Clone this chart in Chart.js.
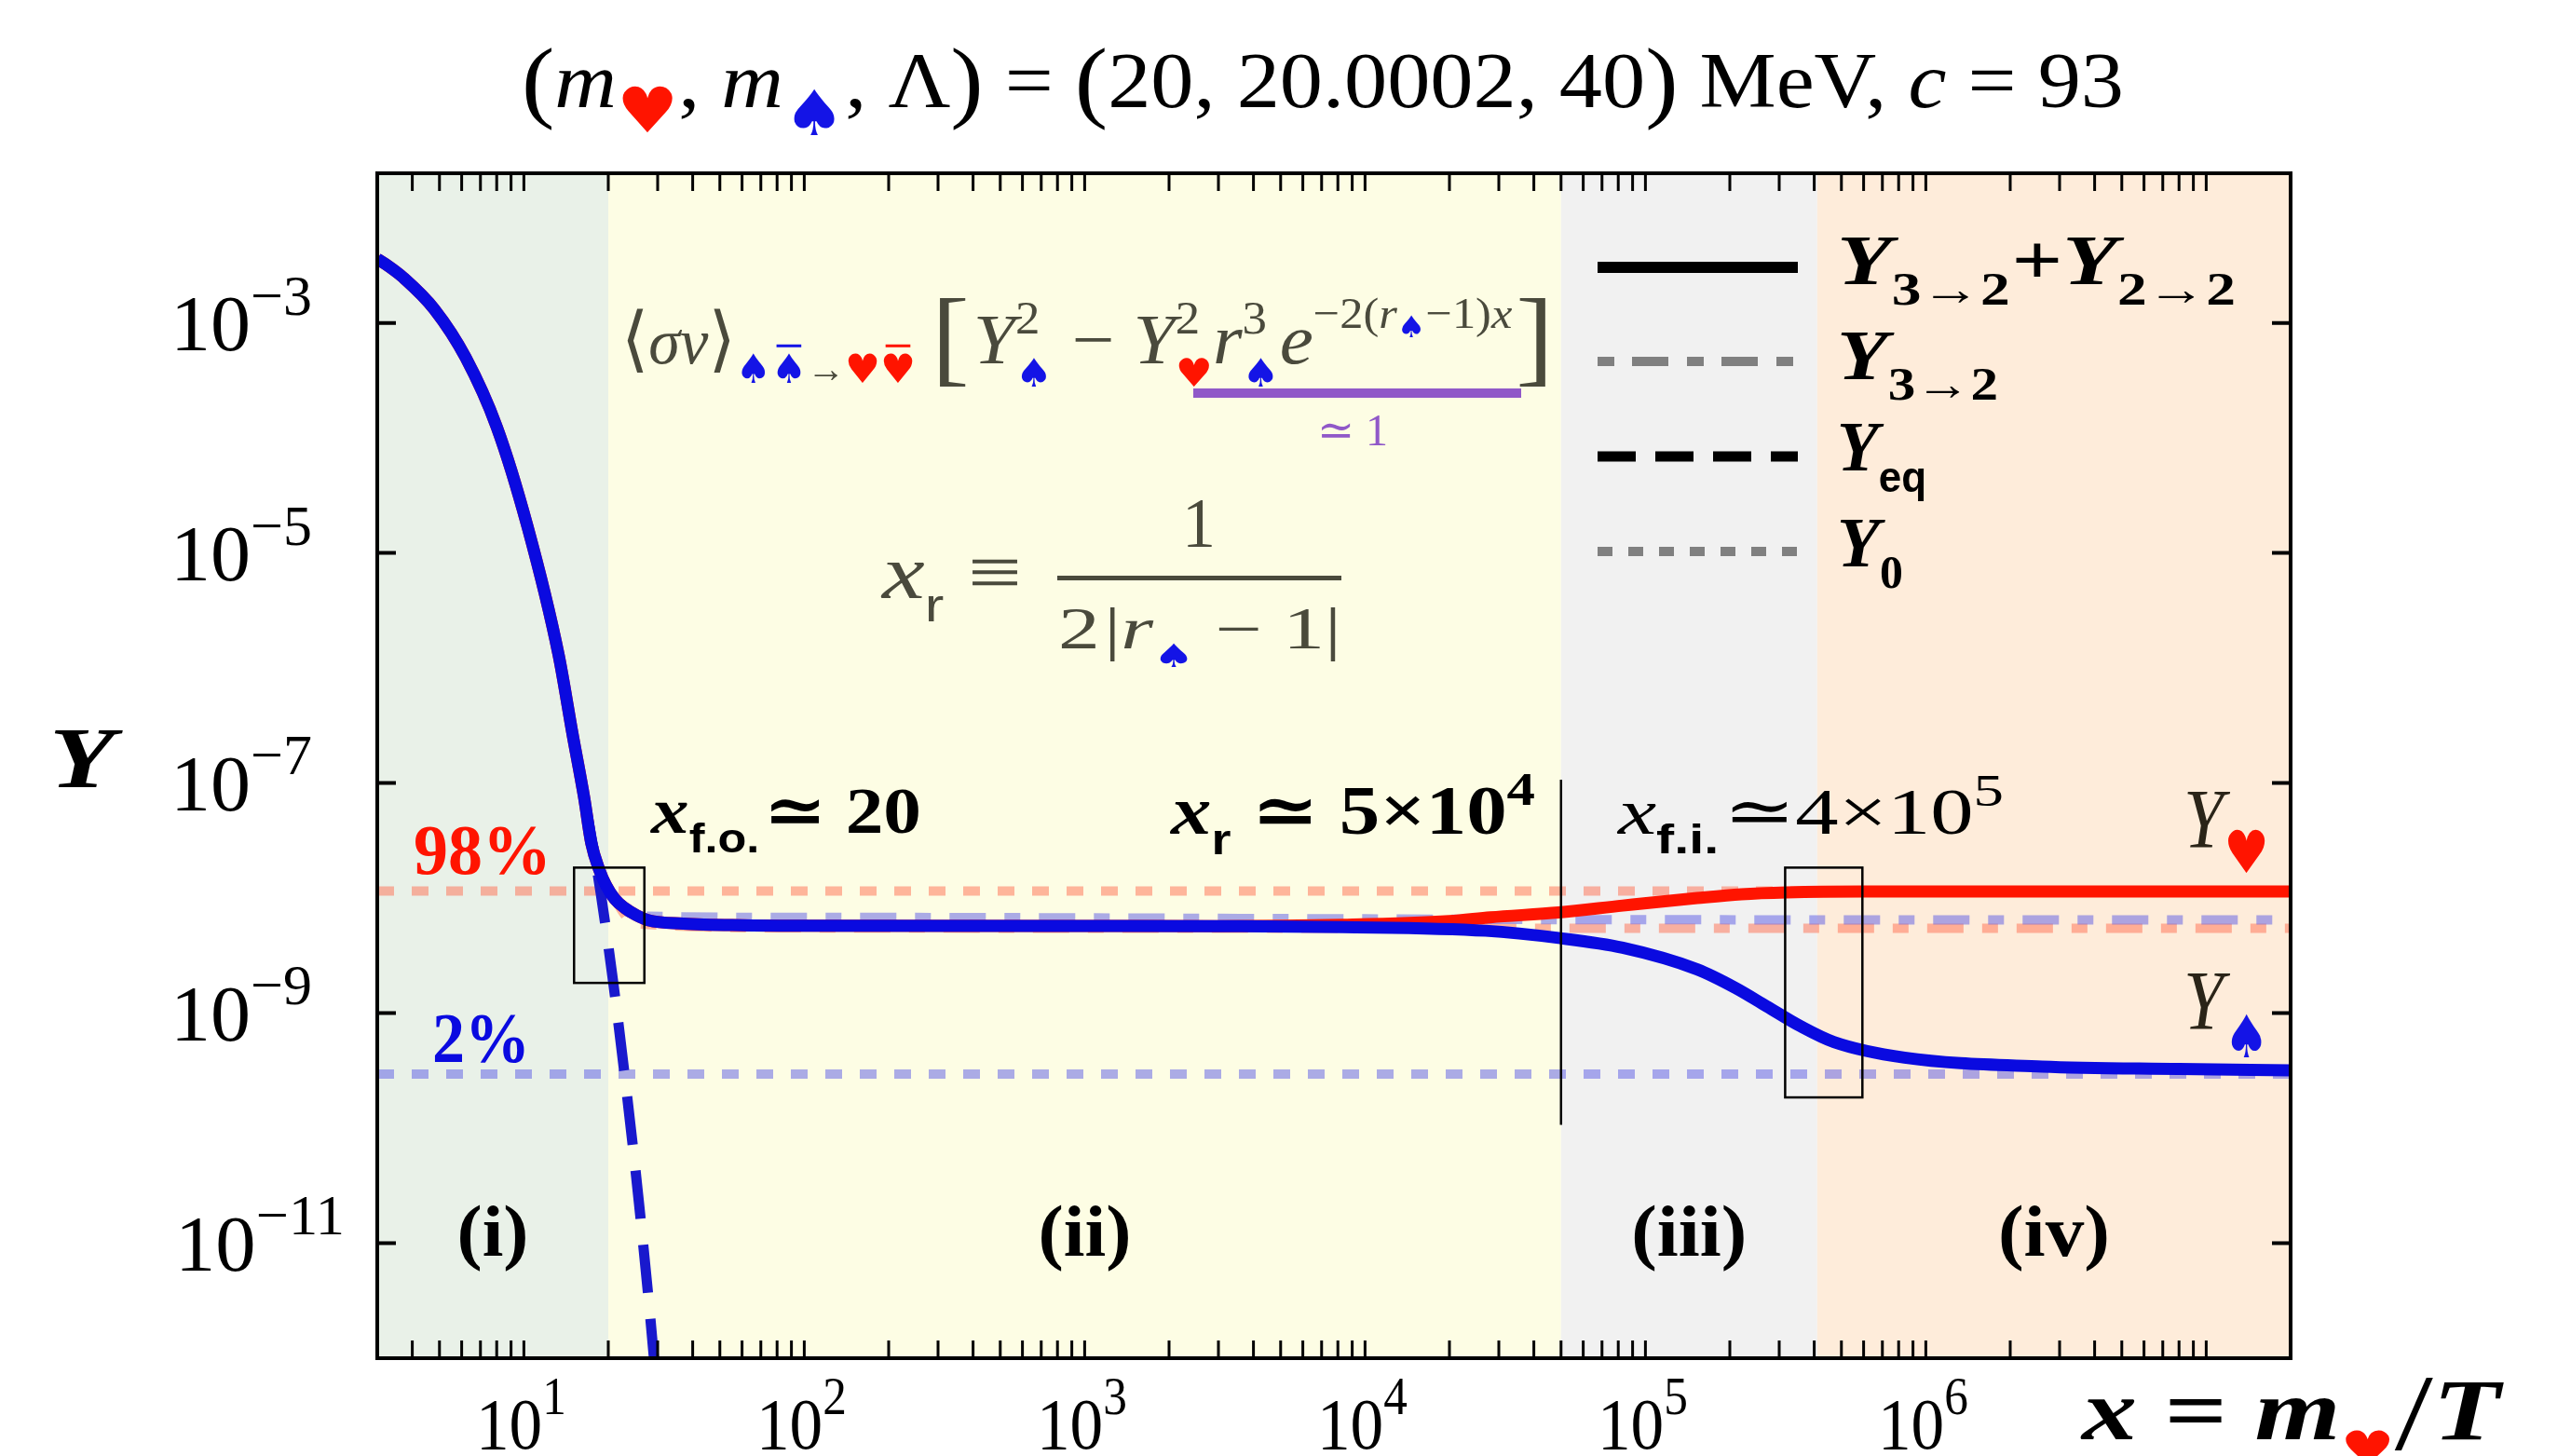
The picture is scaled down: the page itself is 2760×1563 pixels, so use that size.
<!DOCTYPE html>
<html><head><meta charset="utf-8">
<script src="https://cdn.jsdelivr.net/npm/chart.js@4.4.1/dist/chart.umd.min.js"></script>
<style>html,body{margin:0;padding:0;background:#fff}canvas{display:block}</style>
</head><body>
<canvas id="c" width="2760" height="1563"></canvas>
<script>
// ================= DATA =================
const xRange = [3, 2e7];
const yRange = [1e-12, 0.02];
const yTickExponents = [-3, -5, -7, -9, -11];
const xTickExponents = [1, 2, 3, 4, 5, 6];
const regionEdges = [3, 20, 5e4, 4.1e5, 2e7];
const regionLabels = ['(i)', '(ii)', '(iii)', '(iv)'];

// Y_spade (solid blue), Y_3->2 + Y_2->2
const xSpade = [3, 3.3, 3.7, 4.8, 6.2, 8.0, 10.3, 13.3, 14.9, 16.4, 17.4, 18.6, 19.6, 21.1, 22.9, 25.2, 27.9, 37, 60, 100, 1000, 3000, 8340, 2.69e4, 4.9e4, 8.3e4, 1.53e5, 2.1e5, 2.7e5, 3.57e5, 4.7e5, 8.4e5, 2.6e6, 8e6, 2e7];
const ySpade = [3.6e-3, 3.1e-3, 2.5e-3, 1.31e-3, 5.0e-4, 1.25e-4, 1.7e-5, 1.3e-6, 2.7e-7, 7.5e-8, 3.0e-8, 1.75e-8, 1.3e-8, 9.8e-9, 8.2e-9, 7.1e-9, 6.4e-9, 6.0e-9, 5.8e-9, 5.75e-9, 5.72e-9, 5.7e-9, 5.6e-9, 5.2e-9, 4.5e-9, 3.7e-9, 2.4e-9, 1.65e-9, 1.15e-9, 7.7e-10, 5.6e-10, 4.1e-10, 3.43e-10, 3.27e-10, 3.18e-10];
// Y_heart (solid red)
const xHeart = [3, 3.3, 3.7, 4.8, 6.2, 8.0, 10.3, 13.3, 14.9, 16.4, 17.4, 18.6, 19.6, 21.1, 22.9, 25.2, 27.9, 37, 60, 100, 1000, 3000, 8340, 2.0e4, 2.8e4, 4.9e4, 8.3e4, 1.53e5, 2.2e5, 3.19e5, 6e5, 2e6, 2e7];
const yHeart = [3.6e-3, 3.1e-3, 2.5e-3, 1.31e-3, 5.0e-4, 1.25e-4, 1.7e-5, 1.3e-6, 2.7e-7, 7.5e-8, 3.0e-8, 1.75e-8, 1.3e-8, 9.8e-9, 8.2e-9, 7.1e-9, 6.4e-9, 6.0e-9, 5.8e-9, 5.75e-9, 5.72e-9, 5.7e-9, 5.85e-9, 6.3e-9, 6.8e-9, 7.5e-9, 8.6e-9, 1.0e-8, 1.08e-8, 1.12e-8, 1.14e-8, 1.14e-8, 1.14e-8];
// Y_eq (dashed)
const xEq = [13.3, 14.9, 16.4, 17.8, 18.8, 20.7, 22.9, 25.7, 29.0, 31];
const yEq = [1.3e-6, 2.7e-7, 7.5e-8, 2.5e-8, 1.1e-8, 2.07e-9, 2.83e-10, 2.3e-11, 1.1e-12, 1.5e-13];
// Y_3->2 only (dash-dot)
const x32Spade = [19.6, 25, 100, 1e4, 5e4, 2e7];
const y32Spade = [1.3e-8, 7.0e-9, 6.8e-9, 6.6e-9, 6.5e-9, 6.45e-9];
const x32Heart = [19.6, 25, 100, 1e4, 2e7];
const y32Heart = [1.3e-8, 6.0e-9, 5.5e-9, 5.45e-9, 5.45e-9];
// Y_0 levels (dotted): 98 % and 2 %
const y0Heart = 1.15e-8;
const y0Spade = 2.95e-10;
// marker boxes and x_r line
const boxXs = [[15.1, 26.9], [3.15e5, 5.94e5]];
const boxYs = [[1.83e-9, 1.84e-8], [1.85e-10, 1.84e-8]];
const xrLineX = 5e4;
const xrLineY = [1.07e-10, 1.07e-7];

// ================= STYLE =================
const BLUE = '#0a0ae0', RED = '#ff1400', EQBLUE = 'rgb(25,25,205)', PURPLE = '#9058c8', FORM = '#4a4a3c', SUITBLUE = '#1414e6';
const regionColors = ['rgb(233,241,232)', 'rgb(253,253,228)', 'rgb(241,241,241)', 'rgb(254,236,218)'];
const SERIF = "'Liberation Serif','DejaVu Serif',serif";
const SANS = "'Liberation Sans','DejaVu Sans',sans-serif";
const SYM = "'DejaVu Sans',sans-serif";

function pts(xs, ys) { return xs.map((x, i) => ({ x, y: ys[i] })); }

function rich(ctx, parts, o) {
  const F = o.F || 80;
  let cur = 0, stack = null;
  const items = [];
  for (const p of parts) {
    const size = F * (p.s || 1);
    const font = (p.st || o.st || '') + ' ' + size + 'px ' + (p.f || o.f || SERIF);
    ctx.font = font;
    const w = ctx.measureText(p.t).width;
    let x = stack !== null ? stack.x : cur + (p.pre || 0) * F;
    items.push({ p, font, x, w, size });
    if (p.na) stack = { x, w };
    else if (stack !== null) { cur = x + Math.max(w, stack.w) + (p.post || 0) * F; stack = null; }
    else cur = x + w + (p.post || 0) * F;
  }
  const total = cur;
  const sx = o.w ? o.w / total : (o.sx || 1);
  let sy = o.sy || sx;
  if (o.h) {
    const hi = o.hi || 0;
    ctx.font = items[hi].font;
    const m = ctx.measureText(o.hRef || parts[hi].t);
    sy = o.h / m.actualBoundingBoxAscent;
  }
  let x0 = o.x;
  if (o.align === 'center') x0 -= total * sx / 2;
  else if (o.align === 'right') x0 -= total * sx;
  ctx.save();
  ctx.translate(x0, o.y);
  ctx.scale(sx, sy);
  ctx.textBaseline = 'alphabetic';
  ctx.textAlign = 'left';
  for (const it of items) {
    ctx.font = it.font;
    ctx.fillStyle = it.p.c || o.c || '#000';
    const y = (it.p.dy || 0) * F;
    ctx.fillText(it.p.t, it.x, y);
    if (it.p.bar) ctx.fillRect(it.x + it.w * 0.15, y - it.size * 0.95, it.w * 0.7, it.size * 0.07);
  }
  ctx.restore();
  return { x0, sx, sy, total };
}

const deco = {
  id: 'deco',
  beforeDatasetsDraw(chart) {
    const { ctx, chartArea: a, scales: { x } } = chart;
    ctx.save();
    for (let i = 0; i < regionColors.length; i++) {
      const x0 = x.getPixelForValue(regionEdges[i]), x1 = x.getPixelForValue(regionEdges[i + 1]);
      ctx.fillStyle = regionColors[i];
      ctx.fillRect(x0, a.top, x1 - x0, a.bottom - a.top);
    }
    ctx.restore();
  },
  afterDatasetsDraw(chart) {
    const { ctx, chartArea: a, scales: { x, y } } = chart;
    ctx.save();
    // boxes
    ctx.strokeStyle = '#000'; ctx.lineWidth = 2.5;
    boxXs.forEach((bx, i) => {
      const px0 = x.getPixelForValue(bx[0]), px1 = x.getPixelForValue(bx[1]);
      const py0 = y.getPixelForValue(boxYs[i][1]), py1 = y.getPixelForValue(boxYs[i][0]);
      ctx.strokeRect(px0, py0, px1 - px0, py1 - py0);
    });
    // x_r line
    ctx.beginPath();
    const lx = x.getPixelForValue(xrLineX);
    ctx.moveTo(lx, y.getPixelForValue(xrLineY[0]));
    ctx.lineTo(lx, y.getPixelForValue(xrLineY[1]));
    ctx.stroke();
    // frame
    ctx.lineWidth = 4;
    ctx.strokeRect(a.left, a.top, a.right - a.left, a.bottom - a.top);
    // x ticks (inward, top & bottom)
    ctx.lineWidth = 3;
    const TL = 19;
    for (let d = 0; d <= 7; d++) {
      for (let m = 1; m <= 9; m++) {
        const v = m * Math.pow(10, d);
        if (v <= xRange[0] || v >= xRange[1]) continue;
        const px = x.getPixelForValue(v);
        ctx.beginPath();
        ctx.moveTo(px, a.bottom); ctx.lineTo(px, a.bottom - TL);
        ctx.moveTo(px, a.top); ctx.lineTo(px, a.top + TL);
        ctx.stroke();
      }
    }
    // y ticks
    ctx.lineWidth = 4;
    yTickExponents.forEach(e => {
      const py = y.getPixelForValue(Math.pow(10, e));
      ctx.beginPath();
      ctx.moveTo(a.left, py); ctx.lineTo(a.left + 20, py);
      ctx.moveTo(a.right, py); ctx.lineTo(a.right - 20, py);
      ctx.stroke();
    });
    // y tick labels
    yTickExponents.forEach(e => {
      const py = y.getPixelForValue(Math.pow(10, e));
      const ex = String(Math.abs(e));
      rich(ctx, [{ t: '10' }, { t: '\u2212' + ex, s: 0.72, dy: -0.45 }],
        { x: ex.length > 1 ? 188 : 183, y: py + 29, F: 73, w: ex.length > 1 ? 182 : 152, h: 58, hRef: '10' });
    });
    // x tick labels
    xTickExponents.forEach(e => {
      const px = x.getPixelForValue(Math.pow(10, e));
      rich(ctx, [{ t: '10' }, { t: String(e), s: 0.72, dy: -0.47 }],
        { x: px - 3, y: 1555, F: 70, w: 97, h: 53, hRef: '10', align: 'center' });
    });
    // axis titles
    rich(ctx, [{ t: 'Y', st: 'bold italic' }], { x: 88, y: 845, F: 80, w: 70, h: 62, align: 'center' });
    rich(ctx, [{ t: 'x', st: 'bold italic' }, { t: ' = ', st: 'bold' }, { t: 'm', st: 'bold italic' },
      { t: '\u2665', f: SYM, s: 0.55, dy: 0.3, c: RED }, { t: '/', s: 1.25, dy: 0.12 }, { t: 'T', st: 'bold italic' }],
      { x: 2235, y: 1545, F: 80, w: 449, h: 62, hi: 5, hRef: 'T' });
    // title
    rich(ctx, [{ t: '(', s: 1.15, dy: 0.05 }, { t: 'm', st: 'italic' }, { t: '\u2665', f: SYM, s: 0.8, dy: 0.32, c: RED },
      { t: ', ' }, { t: 'm', st: 'italic' }, { t: '\u2660', f: SYM, s: 0.8, dy: 0.36, c: SUITBLUE },
      { t: ', \u039B' }, { t: ')', s: 1.15, dy: 0.05 }, { t: ' = ' }, { t: '(', s: 1.15, dy: 0.05 },
      { t: '20, 20.0002, 40' }, { t: ')', s: 1.15, dy: 0.05 }, { t: ' MeV, ' }, { t: 'c', st: 'italic' }, { t: ' = 93' }],
      { x: 560, y: 115, F: 80, w: 1720, h: 57, hi: 10, hRef: '2' });
    // region labels
    const rw = [77, 100, 124, 120];
    regionLabels.forEach((lab, i) => {
      const cx = x.getPixelForValue(Math.sqrt(regionEdges[i] * regionEdges[i + 1]));
      rich(ctx, [{ t: lab, st: 'bold' }], { x: cx, y: 1348, F: 72, w: rw[i], h: 55, hRef: '(', align: 'center' });
    });
    // annotations
    rich(ctx, [{ t: 'x', st: 'bold italic' }, { t: 'f.o.', f: SANS, st: 'bold', s: 0.62, dy: 0.3 },
      { t: '\u2243', st: 'bold', pre: 0.05 }, { t: ' 20', st: 'bold' }],
      { x: 699, y: 894, F: 72, w: 290, h: 47, hi: 3, hRef: '20' });
    rich(ctx, [{ t: 'x', st: 'bold italic' }, { t: 'r', f: SANS, st: 'bold', s: 0.62, dy: 0.3 },
      { t: ' \u2243 ', st: 'bold' }, { t: '5\u00D710', st: 'bold' }, { t: '4', st: 'bold', s: 0.7, dy: -0.42 }],
      { x: 1257, y: 895, F: 72, w: 391, h: 48, hi: 3, hRef: '5' });
    rich(ctx, [{ t: 'x', st: 'italic' }, { t: 'f.i.', f: SANS, st: 'bold', s: 0.62, dy: 0.3 },
      { t: '\u2243', pre: 0.05 }, { t: '4\u00D710' }, { t: '5', s: 0.7, dy: -0.42 }],
      { x: 1737, y: 895, F: 72, w: 414, h: 46, hi: 3, hRef: '4' });
    rich(ctx, [{ t: '98%', st: 'bold', c: RED }], { x: 444, y: 938, F: 72, w: 148, h: 51, hRef: '98' });
    rich(ctx, [{ t: '2%', st: 'bold', c: BLUE }], { x: 464, y: 1140, F: 72, w: 105, h: 51, hRef: '2' });
    rich(ctx, [{ t: 'Y', st: 'italic', c: '#2a2418' }, { t: '\u2665', f: SYM, s: 0.7, dy: 0.3, c: RED }],
      { x: 2344, y: 910, F: 80, w: 92, h: 60, hRef: 'Y' });
    rich(ctx, [{ t: 'Y', st: 'italic', c: '#2a2418' }, { t: '\u2660', f: SYM, s: 0.7, dy: 0.33, c: SUITBLUE }],
      { x: 2344, y: 1105, F: 80, w: 92, h: 60, hRef: 'Y' });
    // formula line 1
    rich(ctx, [{ t: '\u27E8', f: SYM, s: 1.1 }, { t: '\u03C3v', st: 'italic' }, { t: '\u27E9', f: SYM, s: 1.1 },
      { t: '\u2660', f: SYM, s: 0.62, dy: 0.3, c: SUITBLUE }, { t: '\u2660', f: SYM, s: 0.62, dy: 0.3, c: SUITBLUE, bar: 1 },
      { t: '\u2192', s: 0.6, dy: 0.28 }, { t: '\u2665', f: SYM, s: 0.62, dy: 0.3, c: RED }, { t: '\u2665', f: SYM, s: 0.62, dy: 0.3, c: RED, bar: 1 }],
      { x: 667, y: 390, F: 72, w: 316, h: 36, hi: 1, hRef: '\u03C3', c: FORM });
    rich(ctx, [{ t: '[', s: 1.5, dy: 0.13 },
      { t: 'Y', st: 'italic', pre: 0.05 }, { t: '2', s: 0.65, dy: -0.42, na: 1 }, { t: '\u2660', f: SYM, s: 0.55, dy: 0.32, c: SUITBLUE },
      { t: ' \u2212 ' },
      { t: 'Y', st: 'italic' }, { t: '2', s: 0.65, dy: -0.42, na: 1 }, { t: '\u2665', f: SYM, s: 0.55, dy: 0.32, c: RED },
      { t: 'r', st: 'italic' }, { t: '3', s: 0.65, dy: -0.42, na: 1 }, { t: '\u2660', f: SYM, s: 0.55, dy: 0.32, c: SUITBLUE },
      { t: 'e', st: 'italic' }, { t: '\u22122(', s: 0.62, dy: -0.5 }, { t: 'r', st: 'italic', s: 0.62, dy: -0.5 },
      { t: '\u2660', f: SYM, s: 0.42, dy: -0.36, c: SUITBLUE }, { t: '\u22121)', s: 0.62, dy: -0.5 }, { t: 'x', st: 'italic', s: 0.62, dy: -0.5 },
      { t: ']', s: 1.5, dy: 0.13, pre: 0.05 }],
      { x: 1000, y: 390, F: 72, w: 668, h: 50, hi: 1, hRef: 'Y', c: FORM });
    ctx.fillStyle = PURPLE;
    ctx.fillRect(1281, 417, 352, 10);
    rich(ctx, [{ t: '\u2243 1' }], { x: 1452, y: 478, F: 48, h: 32, hRef: '1', align: 'center', c: PURPLE });
    // formula line 2
    rich(ctx, [{ t: 'x', st: 'italic' }, { t: 'r', f: SANS, s: 0.6, dy: 0.3 }, { t: ' \u2261' }],
      { x: 947, y: 642, F: 72, w: 150, h: 38, hRef: 'x', c: FORM });
    ctx.fillStyle = FORM;
    ctx.fillRect(1135, 618, 305, 5);
    rich(ctx, [{ t: '1' }], { x: 1287, y: 587, F: 72, h: 50, hRef: '1', align: 'center', c: FORM });
    rich(ctx, [{ t: '2' }, { t: '|', pre: 0.05 }, { t: 'r', st: 'italic' }, { t: '\u2660', f: SYM, s: 0.55, dy: 0.32, c: SUITBLUE },
      { t: ' \u2212 ' }, { t: '1' }, { t: '|' }],
      { x: 1136, y: 696, F: 72, w: 304, h: 42, hRef: '2', c: FORM });
    // legend
    const rows = [287, 388, 490, 592];
    const lstyles = [
      { c: '#000', w: 12, d: [] },
      { c: '#808080', w: 10, d: [18, 19, 39, 20] },
      { c: '#000', w: 11, d: [41, 21] },
      { c: '#808080', w: 10, d: [16, 17] }
    ];
    rows.forEach((ry, i) => {
      const s = lstyles[i];
      ctx.strokeStyle = s.c; ctx.lineWidth = s.w; ctx.setLineDash(s.d); ctx.lineCap = 'butt';
      ctx.beginPath(); ctx.moveTo(1715, ry); ctx.lineTo(1930, ry); ctx.stroke();
    });
    ctx.setLineDash([]);
    const Yb = { t: 'Y', st: 'bold italic' };
    rich(ctx, [Yb, { t: '3\u21922', st: 'bold', s: 0.66, dy: 0.29 }, { t: '+', st: 'bold', pre: 0.02 }, Yb, { t: '2\u21922', st: 'bold', s: 0.66, dy: 0.29 }],
      { x: 1972, y: 305, F: 72, w: 428, h: 50, hRef: 'Y' });
    rich(ctx, [Yb, { t: '3\u21922', st: 'bold', s: 0.66, dy: 0.29 }], { x: 1972, y: 407, F: 72, w: 173, h: 50, hRef: 'Y' });
    rich(ctx, [Yb, { t: 'eq', f: SANS, st: 'bold', s: 0.6, dy: 0.3 }], { x: 1972, y: 505, F: 72, w: 96, h: 50, hRef: 'Y' });
    rich(ctx, [Yb, { t: '0', st: 'bold', s: 0.66, dy: 0.3 }], { x: 1972, y: 608, F: 72, w: 71, h: 50, hRef: 'Y' });
    ctx.restore();
  }
};

const common = { pointRadius: 0, fill: false, cubicInterpolationMode: 'monotone', borderCapStyle: 'butt', borderJoinStyle: 'round', clip: 0 };

new Chart(document.getElementById('c'), {
  type: 'line',
  data: {
    datasets: [
      Object.assign({ label: 'Y♠ (3→2 + 2→2)', data: pts(xSpade, ySpade), borderColor: BLUE, borderWidth: 13, order: 1 }, common),
      Object.assign({ label: 'Y♠ eq', data: pts(xEq, yEq), borderColor: EQBLUE, borderWidth: 11, borderDash: [52, 28], order: 2 }, common),
      Object.assign({ label: 'Y♥ (3→2 + 2→2)', data: pts(xHeart, yHeart), borderColor: RED, borderWidth: 13, order: 3 }, common),
      Object.assign({ label: 'Y♠ 3→2', data: pts(x32Spade, y32Spade), borderColor: 'rgba(90,90,230,0.5)', borderWidth: 10, borderDash: [39, 20, 17, 20], order: 4 }, common),
      Object.assign({ label: 'Y♥ 3→2', data: pts(x32Heart, y32Heart), borderColor: 'rgba(255,110,80,0.5)', borderWidth: 10, borderDash: [39, 20, 17, 20], order: 5 }, common),
      Object.assign({ label: 'Y0♥ 98%', data: pts(xRange, [y0Heart, y0Heart]), borderColor: 'rgba(255,110,80,0.5)', borderWidth: 10, borderDash: [18, 19], order: 6 }, common),
      Object.assign({ label: 'Y0♠ 2%', data: pts(xRange, [y0Spade, y0Spade]), borderColor: 'rgba(90,90,230,0.5)', borderWidth: 10, borderDash: [18, 19], order: 7 }, common)
    ]
  },
  options: {
    responsive: false, animation: false, devicePixelRatio: 1,
    layout: { padding: { left: 405, right: 301, top: 186, bottom: 105 } },
    plugins: { legend: { display: false }, tooltip: { enabled: false }, title: { display: false } },
    scales: {
      x: { type: 'logarithmic', min: xRange[0], max: xRange[1], display: false },
      y: { type: 'logarithmic', min: yRange[0], max: yRange[1], display: false }
    }
  },
  plugins: [deco]
});
</script>
</body></html>
